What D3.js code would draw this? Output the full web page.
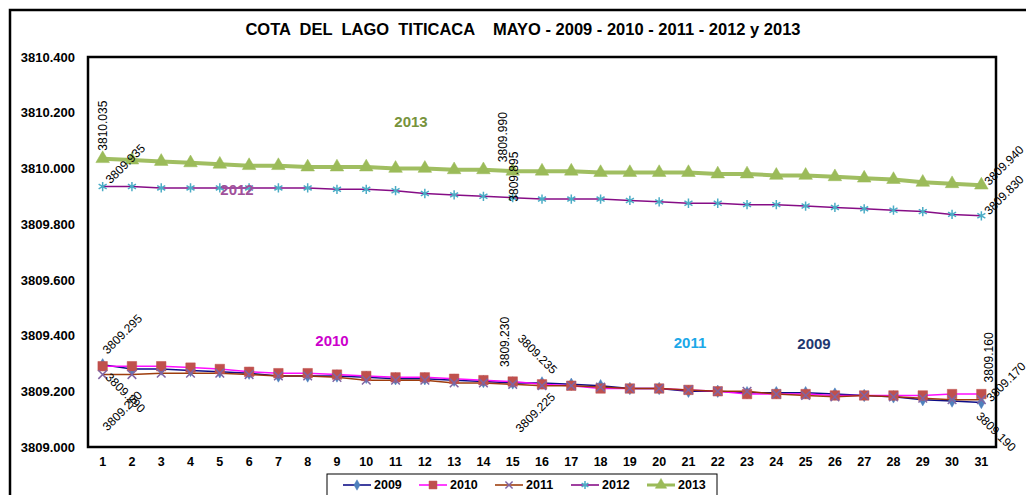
<!DOCTYPE html>
<html>
<head>
<meta charset="utf-8">
<script src="https://cdn.jsdelivr.net/npm/d3@7/dist/d3.min.js"></script>
<style>
  html, body { margin: 0; padding: 0; background: #fff; }
  svg { display: block; font-family: "Liberation Sans", Arial, sans-serif; }
</style>
</head>
<body>
<svg id="chart" width="1026" height="495"></svg>
<script>
// ---------------- data ----------------
const days = d3.range(1, 32);
const yTicks = [3809.0, 3809.2, 3809.4, 3809.6, 3809.8, 3810.0, 3810.2, 3810.4];
const seriesNames = ["2009", "2010", "2011", "2012", "2013"];

const v2009 = [3809.295, 3809.280, 3809.280, 3809.275, 3809.270, 3809.265, 3809.255, 3809.255, 3809.255, 3809.250,
               3809.245, 3809.245, 3809.240, 3809.235, 3809.230, 3809.230, 3809.225, 3809.220, 3809.210, 3809.210,
               3809.200, 3809.200, 3809.195, 3809.195, 3809.195, 3809.190, 3809.185, 3809.180, 3809.170, 3809.165, 3809.160];
const v2010 = [3809.290, 3809.290, 3809.290, 3809.285, 3809.280, 3809.270, 3809.265, 3809.265, 3809.260, 3809.255,
               3809.250, 3809.250, 3809.245, 3809.240, 3809.235, 3809.225, 3809.220, 3809.210, 3809.210, 3809.210,
               3809.205, 3809.200, 3809.190, 3809.190, 3809.190, 3809.185, 3809.185, 3809.185, 3809.185, 3809.190, 3809.190];
const v2011 = [3809.260, 3809.260, 3809.265, 3809.265, 3809.265, 3809.260, 3809.255, 3809.255, 3809.250, 3809.240,
               3809.240, 3809.240, 3809.230, 3809.230, 3809.225, 3809.220, 3809.220, 3809.215, 3809.210, 3809.210,
               3809.205, 3809.200, 3809.200, 3809.190, 3809.185, 3809.180, 3809.185, 3809.180, 3809.175, 3809.170, 3809.170];
const v2012 = [3809.935, 3809.935, 3809.930, 3809.930, 3809.930, 3809.930, 3809.930, 3809.930, 3809.925, 3809.925,
               3809.920, 3809.910, 3809.905, 3809.900, 3809.895, 3809.890, 3809.890, 3809.890, 3809.885, 3809.880,
               3809.875, 3809.875, 3809.870, 3809.870, 3809.865, 3809.860, 3809.855, 3809.850, 3809.845, 3809.835, 3809.830];
const v2013 = [3810.035, 3810.030, 3810.025, 3810.020, 3810.015, 3810.010, 3810.010, 3810.005, 3810.005, 3810.005,
               3810.000, 3810.000, 3809.995, 3809.995, 3809.990, 3809.990, 3809.990, 3809.985, 3809.985, 3809.985,
               3809.985, 3809.980, 3809.980, 3809.975, 3809.975, 3809.970, 3809.965, 3809.960, 3809.950, 3809.945, 3809.940];
const values = [v2009, v2010, v2011, v2012, v2013];

const title = "COTA  DEL  LAGO  TITICACA    MAYO - 2009 - 2010 - 2011 - 2012 y 2013";

// ---------------- styles ----------------
const lineColors = ["#000080", "#FF00FF", "#993300", "#800080", "#9BBB59"];
const markColors = ["#4F81BD", "#C0504D", "#8064A2", "#4BACC6", "#9BBB59"];
const lineWidths = [1.5, 1.5, 1.5, 1.5, 4];
const symbols = [d3.symbolDiamond, d3.symbolSquare, d3.symbolX, d3.symbolAsterisk, d3.symbolTriangle];
const symSizes = [45, 90, 50, 60, 80];
const symFilled = [true, true, false, false, true];
const nameColors = ["#1F3870", "#CC00CC", "#1CA8E8", "#A0509A", "#77933C"];
const namePos = [[814, 343], [332, 340], [690, 342], [237, 189], [411, 121]];

// labels: [series, dayIndex, dx, dy, angle]
const labelCfg = [
  [4, 0, 0, -8, -90], [3, 0, 5, -5, -45],
  [4, 14, -10, -9, -90], [3, 14, 1, 4, -90],
  [4, 30, 5, -2, -45], [3, 30, 5, -3, -45],
  [0, 0, 2, -13, -45], [1, 0, 5, 9, 45], [2, 0, 2, 54, -45],
  [0, 14, -8, -16, -90], [1, 14, 7, -45, 45], [2, 14, 5, 46, -45],
  [0, 30, 8, -20, -90], [2, 30, 7, 0, -45], [1, 30, -3, 20, 45]
];

// ---------------- chart ----------------
const svg = d3.select("#chart");
const plot = {left: 88, top: 57, right: 996, bottom: 447};

// outer frame
svg.append("path").attr("d", "M10,495 L10,10 L1026,10")
  .attr("fill", "none").attr("stroke", "#000").attr("stroke-width", 2.5);

svg.append("text").attr("x", 523).attr("y", 35).attr("text-anchor", "middle")
  .attr("font-size", 16.5).attr("font-weight", "bold").style("white-space", "pre")
  .text(title);

const x = d3.scaleBand().domain(days).range([plot.left, plot.right]).padding(0);
const cx = d => x(d) + x.bandwidth() / 2;
const y = d3.scaleLinear().domain([3809.0, 3810.4]).range([plot.bottom, plot.top]);

// y axis
const ya = svg.append("g").attr("transform", `translate(${plot.left},0)`)
  .call(d3.axisLeft(y).tickValues(yTicks).tickFormat(d3.format(".3f")).tickSize(0).tickPadding(13));
ya.select(".domain").remove();
ya.selectAll("text").attr("font-size", 13).attr("font-weight", "bold").attr("fill", "#000")
  .attr("font-family", "Liberation Sans, Arial, sans-serif");

// x axis
const xa = svg.append("g").attr("transform", `translate(0,${plot.bottom})`)
  .call(d3.axisBottom(x).tickSize(0).tickPadding(10));
xa.select(".domain").remove();
xa.selectAll("text").attr("font-size", 12.5).attr("font-weight", "bold").attr("fill", "#000")
  .attr("font-family", "Liberation Sans, Arial, sans-serif");

// plot border
svg.append("rect").attr("x", plot.left).attr("y", plot.top)
  .attr("width", plot.right - plot.left).attr("height", plot.bottom - plot.top)
  .attr("fill", "none").attr("stroke", "#000").attr("stroke-width", 2.5);

// lines
const line = d3.line().x((d, i) => cx(days[i])).y(d => y(d));
values.forEach((vals, s) => {
  svg.append("path").datum(vals).attr("d", line).attr("fill", "none")
    .attr("stroke", lineColors[s]).attr("stroke-width", lineWidths[s])
    .attr("stroke-linejoin", "round").attr("opacity", 0.95);
});
// markers
values.forEach((vals, s) => {
  const sym = d3.symbol().type(symbols[s]).size(symSizes[s]);
  svg.append("g").selectAll("path").data(vals).join("path")
    .attr("transform", (d, i) => `translate(${cx(days[i])},${y(d)})`)
    .attr("d", sym())
    .attr("fill", symFilled[s] ? markColors[s] : "none")
    .attr("stroke", markColors[s])
    .attr("stroke-width", symFilled[s] ? 0.5 : 1.5);
});

// series name labels
seriesNames.forEach((n, s) => {
  svg.append("text").attr("x", namePos[s][0]).attr("y", namePos[s][1])
    .attr("text-anchor", "middle").attr("dominant-baseline", "central")
    .attr("font-size", 15).attr("font-weight", "bold").attr("fill", nameColors[s]).text(n);
});

// data labels
const fmt = d3.format(".3f");
labelCfg.forEach(([s, i, dx, dy, ang]) => {
  const px = cx(days[i]) + dx, py = y(values[s][i]) + dy;
  svg.append("text").attr("transform", `translate(${px},${py}) rotate(${ang})`)
    .attr("dominant-baseline", "central").attr("font-size", 12).attr("fill", "#000")
    .text(fmt(values[s][i]));
});

// legend
const lg = svg.append("g");
lg.append("rect").attr("x", 327).attr("y", 474).attr("width", 390).attr("height", 30)
  .attr("fill", "#fff").attr("stroke", "#000").attr("stroke-width", 1);
const legX = [343, 419, 495, 571, 647];
seriesNames.forEach((n, s) => {
  const g = lg.append("g").attr("transform", `translate(${legX[s]},485)`);
  g.append("line").attr("x1", 0).attr("x2", 28).attr("stroke", lineColors[s])
    .attr("stroke-width", s === 4 ? 3 : 1.5);
  g.append("path").attr("transform", "translate(14,0)")
    .attr("d", d3.symbol().type(symbols[s]).size(symSizes[s] * 0.7)())
    .attr("fill", symFilled[s] ? markColors[s] : "none").attr("stroke", markColors[s])
    .attr("stroke-width", symFilled[s] ? 0.5 : 1.5);
  g.append("text").attr("x", 31).attr("dominant-baseline", "central")
    .attr("font-size", 12.5).attr("font-weight", "bold").text(n);
});
</script>
</body>
</html>
